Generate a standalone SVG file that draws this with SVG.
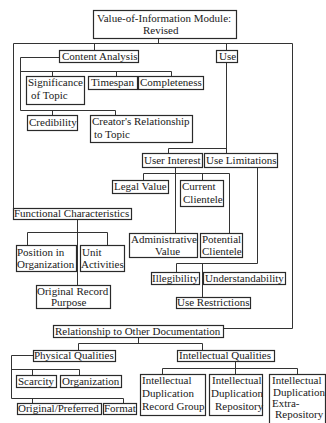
<svg xmlns="http://www.w3.org/2000/svg" width="326" height="423" viewBox="0 0 326 423">
<style>
rect.b{fill:#fff;stroke:#2a2a2a;stroke-width:1.2}
text{font-family:"Liberation Serif","Times New Roman",serif;font-size:11px;fill:#1a1a1a}
#connectors path{fill:none;stroke:#333;stroke-width:1}
</style>
<rect width="326" height="423" fill="#fff"/>
<g id="connectors">
<path d="M158.5 38V43.5M13.5 43.5H292.5M94.5 43.5V50M226.5 43.5V50M226.5 62V153M226.5 148.5H168.5V153M292.5 43.5V328.5H223M13.5 43.5V208"/>
<path d="M59 57.5H20.5V110.5M20.5 71.5H171.5V76M52.5 71.5V76M116.5 71.5V76M20.5 110.5H115.5V115M52.5 110.5V115"/>
<path d="M175.5 167V233M143.5 173.5H229.5V233M143.5 173.5V180M202.5 173.5V180"/>
<path d="M257.5 167V263.5H176.5V272M202.5 263.5V297"/>
<path d="M77.5 219V285M27.5 232.5H107.5M27.5 232.5V245M107.5 232.5V245"/>
<path d="M138.5 337V343.5M78.5 343.5H202.5M78.5 343.5V350M202.5 343.5V350"/>
<path d="M33 355.5H11.5V398.5H123.5V403M11.5 369.5H79.5V375M32.5 369.5V375M32.5 398.5V403"/>
<path d="M235.5 361V374M162.5 368.5H297.5V374M162.5 368.5V374"/>
</g>
<g id="title"><rect class="b" x="93.5" y="10.5" width="143" height="28"/><text x="97" y="22">Value-of-Information Module:</text><text x="143" y="34">Revised</text></g>
<g id="content-analysis"><rect class="b" x="59.5" y="50.5" width="79" height="12"/><text x="62" y="60">Content Analysis</text></g>
<g id="use"><rect class="b" x="216.5" y="50.5" width="21" height="12"/><text x="219" y="60">Use</text></g>
<g id="significance"><rect class="b" x="26.5" y="76.5" width="58" height="28"/><text x="28" y="86">Significance</text><text x="31" y="99">of Topic</text></g>
<g id="timespan"><rect class="b" x="88.5" y="76.5" width="49" height="13"/><text x="91" y="86">Timespan</text></g>
<g id="completeness"><rect class="b" x="138.5" y="76.5" width="65" height="13"/><text x="140" y="86">Completeness</text></g>
<g id="credibility"><rect class="b" x="27.5" y="115.5" width="50" height="15"/><text x="29" y="126">Credibility</text></g>
<g id="creator"><rect class="b" x="90.5" y="115.5" width="102" height="27"/><text x="92" y="125">Creator's Relationship</text><text x="94" y="138">to Topic</text></g>
<g id="user-interest"><rect class="b" x="142.5" y="153.5" width="60" height="14"/><text x="144" y="164">User Interest</text></g>
<g id="use-limitations"><rect class="b" x="204.5" y="153.5" width="73" height="14"/><text x="206" y="164">Use Limitations</text></g>
<g id="legal-value"><rect class="b" x="112.5" y="180.5" width="56" height="13"/><text x="114" y="190">Legal Value</text></g>
<g id="current-clientele"><rect class="b" x="180.5" y="180.5" width="43" height="26"/><text x="182" y="190">Current</text><text x="183" y="203">Clientele</text></g>
<g id="functional"><rect class="b" x="13.5" y="208.5" width="118" height="11"/><text x="14" y="217">Functional Characteristics</text></g>
<g id="administrative"><rect class="b" x="129.5" y="233.5" width="68" height="24"/><text x="131" y="243">Administrative</text><text x="155" y="255">Value</text></g>
<g id="potential-clientele"><rect class="b" x="200.5" y="233.5" width="42" height="24"/><text x="202" y="243">Potential</text><text x="202" y="255">Clientele</text></g>
<g id="position"><rect class="b" x="16.5" y="245.5" width="60" height="26"/><text x="17" y="256">Position in</text><text x="17" y="268">Organization</text></g>
<g id="unit-activities"><rect class="b" x="80.5" y="245.5" width="44" height="26"/><text x="82" y="256">Unit</text><text x="81" y="268">Activities</text></g>
<g id="illegibility"><rect class="b" x="151.5" y="272.5" width="48" height="12"/><text x="152" y="282">Illegibility</text></g>
<g id="understandability"><rect class="b" x="203.5" y="272.5" width="82" height="12"/><text x="205" y="282">Understandability</text></g>
<g id="original-record"><rect class="b" x="36.5" y="285.5" width="74" height="23"/><text x="37" y="295">Original Record</text><text x="51" y="306">Purpose</text></g>
<g id="use-restrictions"><rect class="b" x="176.5" y="297.5" width="74" height="11"/><text x="177" y="306">Use Restrictions</text></g>
<g id="relationship"><rect class="b" x="53.5" y="325.5" width="170" height="12"/><text x="55" y="335">Relationship to Other Documentation</text></g>
<g id="physical"><rect class="b" x="33.5" y="350.5" width="82" height="11"/><text x="34" y="359">Physical Qualities</text></g>
<g id="intellectual"><rect class="b" x="177.5" y="350.5" width="97" height="11"/><text x="179" y="359">Intellectual Qualities</text></g>
<g id="scarcity"><rect class="b" x="16.5" y="375.5" width="40" height="12"/><text x="18" y="385">Scarcity</text></g>
<g id="organization"><rect class="b" x="60.5" y="375.5" width="61" height="12"/><text x="62" y="385">Organization</text></g>
<g id="original-preferred"><rect class="b" x="17.5" y="403.5" width="84" height="11"/><text x="18" y="412">Original/Preferred</text></g>
<g id="format"><rect class="b" x="103.5" y="403.5" width="33" height="11"/><text x="104" y="412">Format</text></g>
<g id="dup-record-group"><rect class="b" x="140.5" y="374.5" width="65" height="41"/><text x="142" y="384">Intellectual</text><text x="142" y="397">Duplication</text><text x="142" y="410">Record Group</text></g>
<g id="dup-repository"><rect class="b" x="209.5" y="374.5" width="53" height="41"/><text x="212" y="384">Intellectual</text><text x="211" y="397">Duplication</text><text x="215" y="410">Repository</text></g>
<g id="dup-extra"><rect class="b" x="269.5" y="374.5" width="56" height="60"/><text x="272" y="384">Intellectual</text><text x="273" y="396">Duplication</text><text x="272" y="407">Extra-</text><text x="275" y="418">Repository</text></g>
</svg>
